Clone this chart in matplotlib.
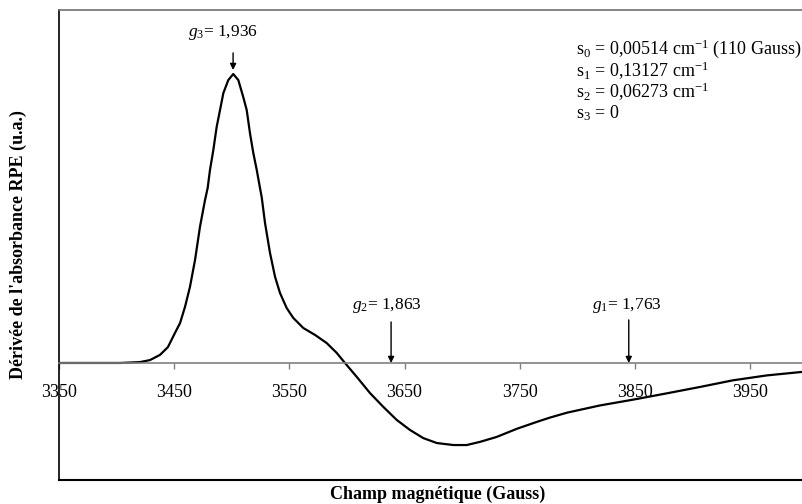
import numpy as np
import matplotlib.pyplot as plt

plt.rcParams['font.family'] = ['Liberation Serif', 'DejaVu Serif']
plt.rcParams['mathtext.fontset'] = 'custom'
plt.rcParams['mathtext.rm'] = 'Liberation Serif'
plt.rcParams['mathtext.it'] = 'Liberation Serif:italic'
plt.rcParams['mathtext.bf'] = 'Liberation Serif:bold'

# derived EPR spectrum
field = [3350, 3385.6, 3403.0, 3420.3, 3429.0, 3437.7, 3444.6, 3450.7, 3455.1,
         3459.4, 3463.7, 3468.1, 3472.4, 3476.8, 3479.1, 3481.1, 3484.0, 3486.9,
         3489.8, 3492.7, 3497.0, 3501.3, 3505.7, 3510.0, 3513.0, 3515.8, 3518.7,
         3521.7, 3524.5, 3526.0, 3528.9, 3533.2, 3537.6, 3541.9, 3547.7, 3553.4,
         3562.1, 3572.3, 3582.4, 3591.1, 3598.3, 3608.5, 3620.0, 3631.6, 3643.2,
         3654.8, 3666.3, 3678.0, 3692.4, 3704.0, 3715.6, 3730.0, 3747.4, 3764.8,
         3776.3, 3791.1, 3819.7, 3848.4, 3877.9, 3906.6, 3935.2, 3964.7, 3995.1]
signal = [0, 0, 0, 0.003, 0.010, 0.028, 0.055, 0.104, 0.138,
          0.194, 0.263, 0.356, 0.471, 0.564, 0.606, 0.668, 0.737, 0.817,
          0.875, 0.934, 0.979, 1.0, 0.979, 0.920, 0.875, 0.796, 0.727,
          0.668, 0.606, 0.574, 0.484, 0.381, 0.298, 0.242, 0.190, 0.156,
          0.121, 0.097, 0.069, 0.035, 0.0, -0.048, -0.104, -0.152, -0.197,
          -0.232, -0.260, -0.277, -0.284, -0.284, -0.273, -0.256, -0.228, -0.204,
          -0.189, -0.172, -0.147, -0.127, -0.105, -0.083, -0.060, -0.043, -0.031]

g_names = ['g_3', 'g_2', 'g_1']
g_values = [1.936, 1.863, 1.763]
nu_ghz = 9.487  # microwave frequency, B(G) = 714.477 * nu / g

s_lines = ['s$_0$ = 0,00514 cm$^{-1}$ (110 Gauss)',
           's$_1$ = 0,13127 cm$^{-1}$',
           's$_2$ = 0,06273 cm$^{-1}$',
           's$_3$ = 0']

xticks = [3350, 3450, 3550, 3650, 3750, 3850, 3950]

fig = plt.figure(figsize=(8.02, 5.04), dpi=100)
ax = fig.add_axes([59/802, 24/504, 748.6/802, 470/504])

ax.plot(field, signal, color='black', lw=1.6, solid_joinstyle='round')
ax.set_xlim(3350, 4000)
ax.set_ylim(-0.405, 1.2215)

# zero line carries the ticks
ax.spines['bottom'].set_position(('data', 0))
ax.spines['bottom'].set_color('#808080')
ax.spines['bottom'].set_linewidth(1.2)
ax.spines['top'].set_color('#707070')
ax.spines['top'].set_linewidth(1.2)
ax.spines['right'].set_visible(False)
ax.spines['left'].set_linewidth(1.2)
ax.plot([0, 1], [0, 0], transform=ax.transAxes, color='black', lw=1.5, clip_on=False)

ax.set_xticks(xticks)
ax.set_xticklabels([str(t) for t in xticks])
ax.tick_params(axis='x', direction='out', length=4.5, width=1, color='#808080',
               labelsize=13, pad=11)
ax.set_yticks([])

# g markers
label_shift = [-9, -4, -2]
for name, g, yt, yl, dx in zip(g_names, g_values, [1.073, 0.142, 0.149],
                               [1.142, 0.20, 0.20], label_shift):
    b = 714.477 * nu_ghz / g
    head = 1.014 if name == 'g_3' else 0.0
    ax.annotate('', xy=(b, head), xytext=(b, yt),
                arrowprops=dict(arrowstyle='-|>', color='black', lw=1, mutation_scale=9,
                                shrinkA=0, shrinkB=0))
    ax.text(b + dx, yl, '$' + name + '$= ' + f'{g:.3f}'.replace('.', ','),
            ha='center', va='center', fontsize=12.5)

for i, line in enumerate(s_lines):
    fig.text(576/802, 1 - (49 + i*21.5)/504, line, ha='left', va='center', fontsize=13)

fig.text(438/802, 1 - 494/504, 'Champ magnétique (Gauss)', ha='center', va='center',
         fontsize=13, fontweight='bold')
fig.text(18/802, 1 - 245/504, "Dérivée de l'absorbance RPE (u.a.)", ha='center', va='center',
         fontsize=13, fontweight='bold', rotation=90)

fig.savefig('out.png', dpi=100)
